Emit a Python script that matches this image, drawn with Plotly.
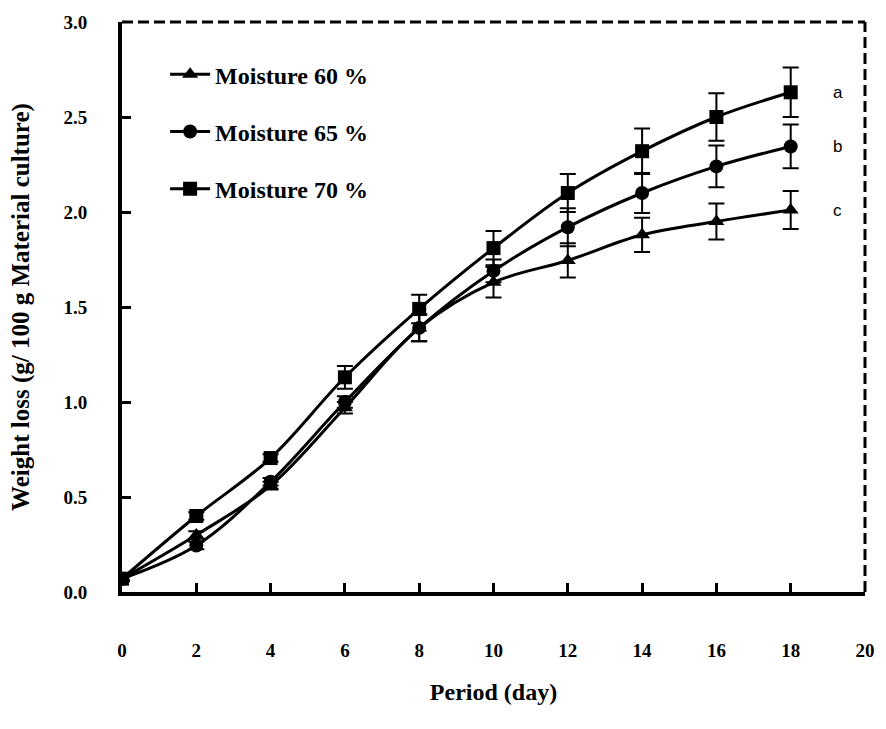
import plotly.graph_objects as go

# Sampling days
days = [0, 2, 4, 6, 8, 10, 12, 14, 16, 18]

# Weight loss (g / 100 g material culture) per moisture level
m60 = [0.07, 0.30, 0.56, 0.97, 1.39, 1.63, 1.745, 1.88, 1.95, 2.01]
m65 = [0.07, 0.245, 0.58, 1.00, 1.39, 1.69, 1.92, 2.10, 2.24, 2.345]
m70 = [0.07, 0.40, 0.705, 1.13, 1.49, 1.81, 2.10, 2.32, 2.50, 2.63]

# Standard errors
e60 = [0.01, 0.02, 0.02, 0.03, 0.07, 0.08, 0.09, 0.09, 0.095, 0.10]
e65 = [0.01, 0.02, 0.02, 0.03, 0.07, 0.06, 0.10, 0.105, 0.11, 0.115]
e70 = [0.01, 0.02, 0.02, 0.06, 0.075, 0.09, 0.10, 0.12, 0.125, 0.13]

series_names = ["Moisture 60 %", "Moisture 65 %", "Moisture 70 %"]
series_symbols = ["triangle-up", "circle", "square"]
series_sizes = [14, 14, 14]

# Significance letters at the last sampling day
sig_letters = ["c", "b", "a"]

x_ticks = [0, 2, 4, 6, 8, 10, 12, 14, 16, 18, 20]
y_ticks = [0.0, 0.5, 1.0, 1.5, 2.0, 2.5, 3.0]

SERIF = "Liberation Serif, Times New Roman, serif"

fig = go.Figure()
for name, ys, es, sym, sz in zip(series_names, [m60, m65, m70],
                                 [e60, e65, e70], series_symbols, series_sizes):
    fig.add_trace(go.Scatter(
        x=days, y=ys, name=name, mode="lines+markers",
        line=dict(color="black", width=3, shape="spline", smoothing=1),
        marker=dict(symbol=sym, size=sz, color="black"),
        error_y=dict(type="data", array=es, visible=True, color="black",
                     thickness=2, width=8),
        legendgroup=name,
    ))

for letter, ys in zip(sig_letters, [m60, m65, m70]):
    fig.add_annotation(x=18, y=ys[-1], text=letter, showarrow=False,
                       xanchor="left", xshift=40, yshift=0,
                       font=dict(family="Liberation Sans, Arial, sans-serif",
                                 size=17, color="black"))

# Dashed top and right frame
fig.add_shape(type="line", xref="paper", yref="paper", x0=0, x1=1, y0=1, y1=1,
              line=dict(color="black", width=3, dash="11px,5px"))
fig.add_shape(type="line", xref="paper", yref="paper", x0=1, x1=1, y0=0, y1=1,
              line=dict(color="black", width=3, dash="11px,5px"))

fig.update_layout(
    width=886, height=729,
    margin=dict(l=122, r=11, t=22, b=137),
    plot_bgcolor="white", paper_bgcolor="white",
    showlegend=True,
    legend=dict(x=0.058, y=0.947, xanchor="left", yanchor="top",
                font=dict(family=SERIF, size=24, color="black", weight="bold"),
                bgcolor="rgba(0,0,0,0)", tracegroupgap=23,
                itemwidth=40, traceorder="grouped"),
    xaxis=dict(
        range=[0, 20], tickvals=x_ticks, ticktext=[str(v) for v in x_ticks],
        showline=True, linewidth=4, linecolor="black", mirror=False,
        ticks="inside", ticklen=9, tickwidth=3, tickcolor="black",
        showgrid=False, zeroline=False,
        ticklabelstandoff=38,
        tickfont=dict(family=SERIF, size=19, color="black", weight="bold"),
        title=dict(text="Period (day)", standoff=24,
                   font=dict(family=SERIF, size=24, color="black", weight="bold")),
    ),
    yaxis=dict(
        range=[0, 3], tickvals=y_ticks, ticktext=[f"{v:.1f}" for v in y_ticks],
        showline=True, linewidth=4, linecolor="black", mirror=False,
        ticks="inside", ticklen=9, tickwidth=3, tickcolor="black",
        showgrid=False, zeroline=False,
        ticklabelstandoff=27,
        tickfont=dict(family=SERIF, size=19, color="black", weight="bold"),
        title=dict(text="Weight loss (g/ 100 g Material culture)", standoff=28,
                   font=dict(family=SERIF, size=25, color="black", weight="bold")),
    ),
)

fig.write_html("out.html")
